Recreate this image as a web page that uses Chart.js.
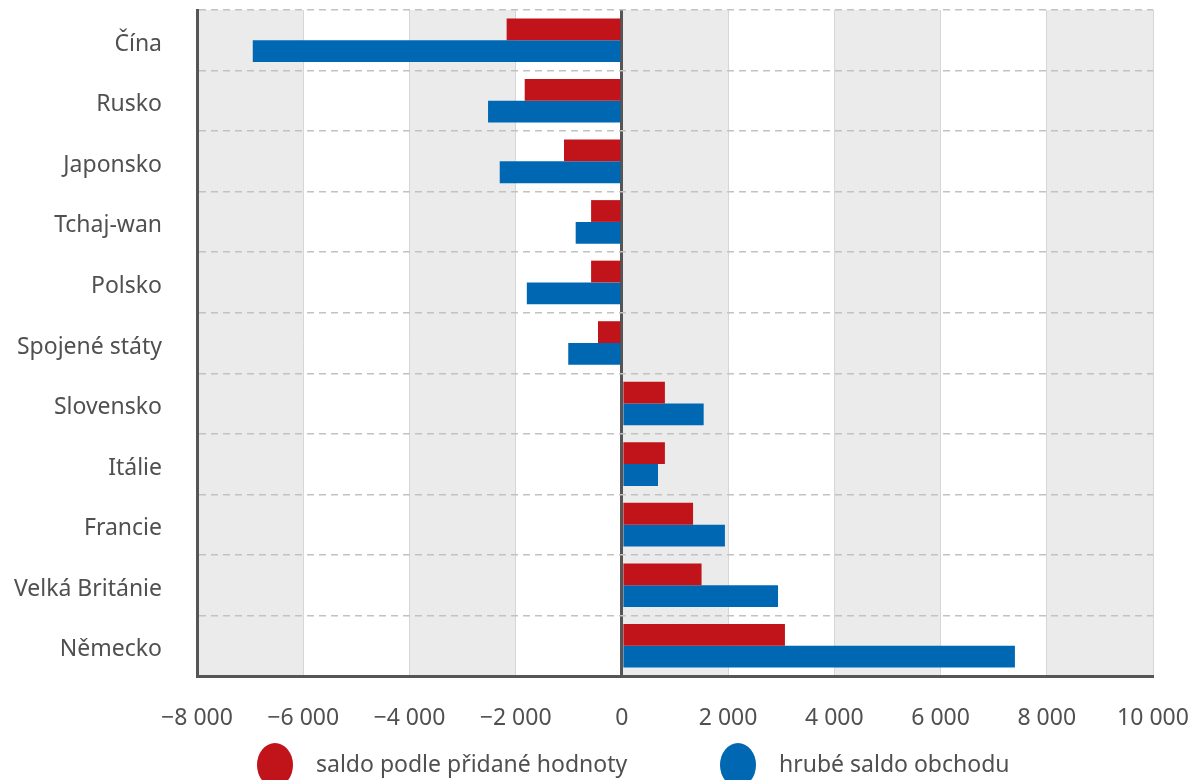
<!DOCTYPE html>
<html lang="cs">
<head>
<meta charset="utf-8">
<script src="https://cdn.jsdelivr.net/npm/chart.js@4.4.1/dist/chart.umd.min.js"></script>
<style>
  html, body { margin: 0; padding: 0; background: #fff; overflow: hidden; }
  #wrap { width: 1194px; height: 780px; position: relative; }
</style>
</head>
<body>
<div id="wrap"><canvas id="saldoChart"></canvas></div>
<script>
// země shora dolů
const zeme = ['Čína', 'Rusko', 'Japonsko', 'Tchaj-wan', 'Polsko', 'Spojené státy',
              'Slovensko', 'Itálie', 'Francie', 'Velká Británie', 'Německo'];
// saldo podle přidané hodnoty
const saldoPridana = [-2170, -1830, -1090, -580, -580, -450, 810, 810, 1340, 1500, 3070];
// hrubé saldo obchodu
const saldoHrube = [-6950, -2520, -2300, -870, -1790, -1010, 1540, 680, 1940, 2940, 7400];
const nazvyRad = ['saldo podle přidané hodnoty', 'hrubé saldo obchodu'];
const osaMin = -8000;
const osaMax = 10000;
const osaKrok = 2000;

const CERVENA = '#c1141a';
const MODRA = '#0068b3';
const TEXT = '#505050';

Chart.defaults.font.family = '"Noto Sans", sans-serif';
Chart.defaults.color = TEXT;

// šedé pásy pod mřížkou (každý druhý interval)
const pasyPozadi = {
    id: 'pasyPozadi',
    beforeDraw(chart) {
        const { ctx, chartArea, scales: { x } } = chart;
        ctx.save();
        ctx.fillStyle = '#ebebeb';
        x.ticks.forEach((t, i) => {
            if (i % 2 === 1 || i === x.ticks.length - 1) return;
            const x0 = x.getPixelForValue(t.value);
            const x1 = x.getPixelForValue(x.ticks[i + 1].value);
            ctx.fillRect(x0, chartArea.top, x1 - x0, chartArea.bottom - chartArea.top);
        });
        ctx.restore();
    }
};

// legenda s velkými kolečky dole
const legenda = {
    id: 'legenda',
    afterDraw(chart) {
        const { ctx, chartArea } = chart;
        const y = 765;
        const zacatky = [chartArea.left + 60, chartArea.left + 523];
        ctx.save();
        ctx.font = '23px "Noto Sans"';
        ctx.textBaseline = 'middle';
        chart.data.datasets.forEach((ds, i) => {
            const x = zacatky[i];
            ctx.fillStyle = ds.backgroundColor;
            ctx.beginPath();
            ctx.ellipse(x + 18, y, 18, 22, 0, 0, Math.PI * 2);
            ctx.fill();
            ctx.fillStyle = TEXT;
            ctx.fillText(ds.label, x + 59, y);
        });
        ctx.restore();
    }
};

function formatCislo(v) {
    const s = String(Math.abs(v)).replace(/\B(?=(\d{3})+(?!\d))/g, ' ');
    return (v < 0 ? '\u2212' : '') + s;
}

const ctx = document.getElementById('saldoChart').getContext('2d');
const saldoChart = new Chart(ctx, {
    type: 'bar',
    data: {
        labels: zeme,
        datasets: [{
            label: nazvyRad[0],
            data: saldoPridana,
            backgroundColor: CERVENA,
            categoryPercentage: 0.72,
            barPercentage: 1.0
        }, {
            label: nazvyRad[1],
            data: saldoHrube,
            backgroundColor: MODRA,
            categoryPercentage: 0.72,
            barPercentage: 1.0
        }]
    },
    options: {
        indexAxis: 'y',
        responsive: true,
        maintainAspectRatio: false,
        animation: false,
        layout: { padding: { top: 10, right: 41, left: 0, bottom: 0 } },
        plugins: {
            legend: { display: false },
            tooltip: { enabled: false }
        },
        scales: {
            x: {
                min: osaMin,
                max: osaMax,
                ticks: {
                    stepSize: osaKrok,
                    font: { size: 23 },
                    padding: 29,
                    callback: v => formatCislo(v)
                },
                grid: {
                    drawTicks: false,
                    color: c => (c.tick && c.tick.value === 0) ? '#555555' : '#d6d6d6',
                    lineWidth: c => (c.tick && c.tick.value === 0) ? 3 : 1
                },
                border: { color: '#555555', width: 3 },
                afterFit(s) {
                    s.height = 104;
                    s.paddingLeft = 0;
                    s.paddingRight = 0;
                }
            },
            y: {
                ticks: { font: { size: 23 }, padding: 35, labelOffset: 4 },
                grid: { drawTicks: false, color: '#c2c2c2', lineWidth: 1.5 },
                border: { color: '#555555', width: 3, dash: [7, 5] },
                afterFit(s) {
                    s.width = 197;
                    s.paddingTop = 0;
                    s.paddingBottom = 0;
                }
            }
        }
    },
    plugins: [pasyPozadi, legenda]
});
</script>
</body>
</html>
